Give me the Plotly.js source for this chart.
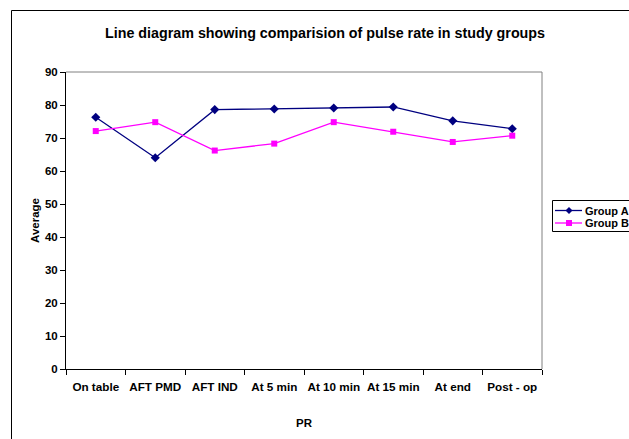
<!DOCTYPE html>
<html><head><meta charset="utf-8">
<script src="https://cdn.plot.ly/plotly-3.0.1.min.js"></script>
<style>body{margin:0;background:#fff}#chart{width:629px;height:439px}</style>
</head><body><div id="chart"></div>
<script>
const categories = ["On table","AFT PMD","AFT IND","At 5 min","At 10 min","At 15 min","At end","Post - op"];
const groupA = [76.3, 64.0, 78.6, 78.8, 79.1, 79.4, 75.2, 72.8];
const groupB = [72.1, 74.8, 66.2, 68.3, 74.8, 71.9, 68.8, 70.7];
const yTicks = [0,10,20,30,40,50,60,70,80,90];
const seriesNames = ["Group A", "Group B"];
const seriesColors = ["#000080", "#FF00FF"];

const W = 629, H = 439;
const L = 66, R = 87, T = 72, B = 70;
const pw = W - L - R, ph = H - T - B;
const px = x => (x - L) / pw;
const py = y => (H - B - y) / ph;

const fam = "Liberation Sans, Arial, sans-serif";
const font = {family: fam, size: 11, color: "#000"};

const traces = [
  {x: categories, y: groupA, name: seriesNames[0], type: "scatter", mode: "lines+markers",
   line: {color: seriesColors[0], width: 1.3}, marker: {symbol: "diamond", size: 7, color: seriesColors[0]}},
  {x: categories, y: groupB, name: seriesNames[1], type: "scatter", mode: "lines+markers",
   line: {color: seriesColors[1], width: 1.3}, marker: {symbol: "square", size: 6, color: seriesColors[1]}}
];

// manual legend (Excel-style compact legend)
const legRows = [210.5, 223];
const legShapes = [];
const legAnn = [];
legRows.forEach((yy, i) => {
  legShapes.push({type: "line", xref: "paper", yref: "paper", x0: px(555), x1: px(582), y0: py(yy), y1: py(yy),
                  line: {color: seriesColors[i], width: 1.3}});
  let path;
  const cx = px(569), cy = py(yy), dx = 3.5 / pw, dy = 3.5 / ph, sx = 3 / pw, sy = 3 / ph;
  if (i === 0) path = `M ${cx-dx} ${cy} L ${cx} ${cy+dy} L ${cx+dx} ${cy} L ${cx} ${cy-dy} Z`;
  else path = `M ${cx-sx} ${cy-sy} L ${cx+sx} ${cy-sy} L ${cx+sx} ${cy+sy} L ${cx-sx} ${cy+sy} Z`;
  legShapes.push({type: "path", xref: "paper", yref: "paper", path: path,
                  fillcolor: seriesColors[i], line: {color: seriesColors[i], width: 0}});
  legAnn.push({xref: "paper", yref: "paper", x: px(583), y: py(yy), xanchor: "left", yanchor: "middle",
               text: "<b>" + seriesNames[i] + "</b>", showarrow: false,
               font: {family: fam, size: 11, color: "#000"}});
});

const layout = {
  width: W, height: H,
  margin: {l: L, r: R, t: T, b: B, pad: 0},
  paper_bgcolor: "#fff", plot_bgcolor: "#fff",
  font: font,
  showlegend: false,
  title: {text: "<b>Line diagram showing comparision of pulse rate in study groups</b>",
          font: {family: fam, size: 14.3, color: "#000"},
          x: 325 / W, xref: "container", xanchor: "center", y: 1 - 33 / H, yanchor: "middle"},
  xaxis: {
    type: "category", range: [-0.5, categories.length - 0.5],
    showgrid: false, zeroline: false, showline: true, linecolor: "#000", linewidth: 1,
    ticks: "outside", ticklen: 5, tickcolor: "#000", tickson: "boundaries", tickangle: 0,
    ticklabelstandoff: 7,
    tickfont: {family: fam, size: 11.7, color: "#000", weight: "bold"},
    title: {text: "<b>PR</b>", font: {family: fam, size: 11.5, color: "#000"}, standoff: 26}
  },
  yaxis: {
    range: [0, 90], tickvals: yTicks, showgrid: false, zeroline: false,
    showline: true, linecolor: "#000", linewidth: 1,
    ticks: "outside", ticklen: 5, tickcolor: "#000",
    tickfont: {family: fam, size: 11.5, color: "#000", weight: "bold"},
    title: {text: "<b>Average</b>", font: {family: fam, size: 11.5, color: "#000"}, standoff: 2}
  },
  annotations: legAnn,
  shapes: [
    {type: "rect", xref: "paper", yref: "paper", x0: px(11.5), x1: px(700), y0: py(10.5), y1: py(500),
     line: {color: "#000", width: 1}, fillcolor: "rgba(0,0,0,0)", layer: "below"},
    {type: "line", xref: "paper", yref: "paper", x0: 0, x1: 1, y0: 1, y1: 1, line: {color: "#808080", width: 1}},
    {type: "line", xref: "paper", yref: "paper", x0: 1, x1: 1, y0: 0, y1: 1, line: {color: "#808080", width: 1}},
    {type: "rect", xref: "paper", yref: "paper", x0: px(552.5), x1: px(700), y0: py(200.5), y1: py(231.5),
     line: {color: "#000", width: 1}, fillcolor: "rgba(0,0,0,0)"}
  ].concat(legShapes)
};

Plotly.newPlot("chart", traces, layout, {displayModeBar: false, staticPlot: true});
</script>
</body></html>
